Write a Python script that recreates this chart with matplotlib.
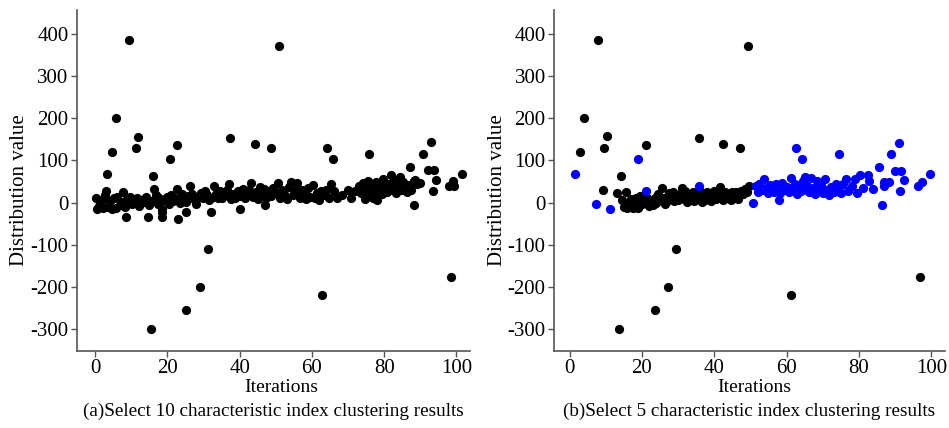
import numpy as np
import matplotlib.pyplot as plt

plt.rcParams['font.family'] = ['Liberation Serif', 'DejaVu Serif']
plt.rcParams['axes.unicode_minus'] = False

# (a) 10 characteristic indexes - all points in one cluster
iter_a = [9.5, 51.0, 5.7, 12.0, 4.8, 11.2, 3.2, 22.8, 20.8, 16.1, 37.3, 44.2, 48.7, 64.3, 65.7,
          75.9, 87.1, 90.6, 92.9, 92.1, 93.9, 94.2, 93.4, 101.4, 99.1, 98.0, 99.3, 88.2, 90.0,
          88.2, 98.5, 62.8, 31.2, 29.0, 25.3, 15.5, 8.5, 14.6, 18.6, 18.6, 22.9, 25.3, 32.0,
          40.0, 47.1,
          0.3, 0.5, 1.2, 1.8, 2.3, 2.8, 3.0, 3.5, 4.2, 4.8, 5.3, 5.8, 6.2, 6.8, 7.3, 7.8, 8.2,
          8.9, 9.6, 10.2, 10.8, 11.5, 12.2, 12.8, 13.5, 14.0, 14.8, 15.5, 16.3, 16.8, 17.3,
          17.8, 18.5, 19.2, 19.8, 20.4, 21.0, 21.6, 22.2, 22.8, 23.4, 24.0, 24.6, 25.2, 25.8,
          26.3, 26.8, 27.4, 28.0, 28.6, 29.2, 29.8, 30.4, 31.0, 31.6, 32.2, 32.8, 33.4, 34.0,
          34.6, 35.2, 35.8, 36.4, 37.0, 37.6, 38.2, 38.8, 39.5, 40.2, 40.8, 41.4, 42.0, 42.6,
          43.2, 43.8, 44.4, 45.0, 45.6, 46.2, 46.8, 47.4, 48.0, 48.6, 49.2, 50.0, 50.6, 51.2,
          51.8, 52.4, 53.0, 53.6, 54.2, 54.8, 55.4, 56.0, 56.6, 57.2, 57.8, 58.4, 59.0, 59.6,
          60.2, 60.8, 61.4, 62.0, 62.6, 63.2, 64.0, 64.6, 65.2, 66.0, 67.0, 68.2, 70.0, 70.8,
          72.0, 73.0, 73.6, 74.0, 74.6, 75.0, 75.4, 75.8, 76.2, 76.8, 77.2, 77.6, 78.0, 78.4,
          78.8, 79.4, 79.8, 80.2, 80.8, 81.4, 82.0, 82.4, 82.8, 83.2, 83.8, 84.3, 84.8, 85.2,
          85.8, 86.2, 86.8, 87.3, 88.6, 89.0]
value_a = [384, 371, 200, 156, 120, 129, 67, 137, 103, 62, 152, 138, 130, 130, 103,
           115, 85, 115, 143, 76, 76, 54, 28, 68, 50, 40, 40, 50, 47,
           -5, -177, -219, -110, -199, -253, -298, -34, -34, -34, -22, -39, -23, -22,
           -15, -6,
           12, -14, -8, 5, -12, 18, 28, -10, 3, -14, 10, -12, 14, -5, 2, 25, -10,
           8, 14, -4, 2, 12, -8, 6, 2, 14, -6, 4, 33, 18, -4,
           10, -14, 6, 14, -4, 18, 4, 10, 33, -2, 20, 8, 2, 15,
           40, 20, 8, -3, 14, 22, 10, 28, 18, 6, 12, 40, 20, 10,
           28, 10, 18, 30, 44, 8, 20, 10, 28, 15, 32, 10, 22, 30,
           46, 14, 24, 8, 36, 20, 32, 12, 28, 16, 34, 22, 46, 12,
           30, 20, 8, 36, 48, 18, 28, 46, 12, 30, 20, 8, 34, 14,
           42, 10, 22, 6, 28, 18, 30, 12, 44, 28, 12, 18, 30, 12,
           28, 40, 22, 46, 8, 30, 52, 18, 40, 12, 30, 48, 6, 24,
           38, 20, 56, 34, 26, 44, 66, 30, 52, 22, 40, 60, 30, 48,
           36, 24, 42, 30, 54, 45]

# (b) 5 characteristic indexes - cluster 1 (black)
iter_b1 = [7.8, 49.3, 4.0, 10.3, 3.0, 9.5, 9.3, 14.2, 21.2, 35.8, 42.5, 47.0, 29.5, 27.3,
           23.5, 13.8, 61.2, 96.8, 13.1,
           14.5, 15.0, 15.5, 16.0, 16.5, 17.0, 17.5, 18.0, 18.5, 19.0, 19.5, 20.0, 20.5, 21.5,
           22.0, 22.5, 23.0, 23.5, 24.0, 24.5, 25.0, 25.5, 26.0, 26.5, 27.0, 27.5, 28.0, 28.5,
           29.0, 29.5, 30.0, 30.5, 31.0, 31.5, 32.0, 32.5, 33.0, 33.5, 34.0, 34.5, 35.0, 35.5,
           36.0, 36.5, 37.0, 37.5, 38.0, 38.5, 39.0, 39.5, 40.0, 40.5, 41.0, 41.5, 42.0, 42.5,
           43.0, 43.5, 44.0, 44.5, 45.0, 45.5, 46.0, 46.5, 47.0, 47.5, 48.0, 48.5, 49.0, 49.5]
value_b1 = [384, 371, 200, 157, 120, 129, 30, 62, 137, 152, 138, 130, -110, -199,
            -253, -298, -219, -177, 22,
            5, -10, 24, -12, 0, 8, -12, -5, 12, -12, 15, -3, 5, 12,
            -8, 3, -5, 10, 0, 20, 6, 35, 12, -3, 4, 22, 10, 25,
            3, 15, 6, 20, 35, 8, 28, 2, 18, 8, 25, 4, 18, 8,
            28, 2, 20, 6, 24, 12, 4, 18, 28, 8, 22, 38, 14, 5,
            26, 10, 20, 5, 25, 14, 24, 8, 18, 28, 20, 32, 25, 40]

# (b) cluster 2 (blue)
iter_b2 = [1.5, 7.2, 11.1, 19.0, 21.1, 35.8, 50.8, 62.6, 64.2, 74.4, 85.6, 86.5, 88.9, 91.2,
           89.9, 91.7, 91.4, 92.4, 99.6, 96.2, 97.5, 87.0, 88.3, 87.0, 57.8,
           51.5, 52.0, 52.5, 53.2, 53.8, 54.3, 54.8, 55.3, 55.8, 56.4, 57.0, 57.5, 58.2, 58.8,
           59.4, 60.0, 60.6, 61.2, 61.8, 62.3, 62.8, 63.4, 64.0, 64.6, 65.0, 65.6, 66.2, 66.8,
           67.3, 67.8, 68.4, 69.0, 69.5, 70.0, 70.6, 71.2, 71.8, 72.4, 73.0, 73.6, 74.2, 75.0,
           75.5, 76.3, 77.0, 78.0, 78.8, 79.4, 80.2, 81.0, 82.5, 82.8, 83.8]
value_b2 = [67, -4, -14, 103, 28, 40, -2, 130, 103, 115, 84, -5, 115, 142,
            75, 75, 28, 53, 68, 40, 49, 48, 48, 40, 6,
            40, 25, 45, 30, 55, 35, 22, 42, 30, 25, 45, 35, 22, 46,
            30, 38, 24, 58, 32, 45, 20, 36, 28, 52, 60, 40, 24, 58,
            35, 20, 50, 30, 42, 22, 55, 30, 18, 38, 25, 44, 30, 22,
            44, 56, 28, 40, 55, 22, 66, 35, 66, 52, 32]

y_ticks = [-300, -200, -100, 0, 100, 200, 300, 400]
x_ticks = [0, 20, 40, 60, 80, 100]
captions = ['(a)Select 10 characteristic index clustering results',
            '(b)Select 5 characteristic index clustering results']

fig = plt.figure(figsize=(9.49, 4.28), dpi=100)
ax1 = fig.add_axes([0.0811, 0.180, 0.414, 0.797])
ax2 = fig.add_axes([0.5838, 0.180, 0.412, 0.797])

ax1.scatter(iter_a, value_a, s=44, color='black', linewidths=0, zorder=3)
ax2.scatter(iter_b1, value_b1, s=44, color='black', linewidths=0, zorder=3)
ax2.scatter(iter_b2, value_b2, s=44, color='#0000ff', linewidths=0, zorder=3)

panels = [(ax1, (-5.0, 103.7), captions[0], 0.520), (ax2, (-4.3, 103.8), captions[1], 0.511)]
for ax, xl, cap, xlab_x in panels:
    ax.set_xlim(*xl)
    ax.set_ylim(-351, 456)
    ax.set_xticks(x_ticks)
    ax.set_yticks(y_ticks)
    ax.spines['top'].set_visible(False)
    ax.spines['right'].set_visible(False)
    for s in ['left', 'bottom']:
        ax.spines[s].set_color('#555555')
        ax.spines[s].set_linewidth(1.2)
    ax.tick_params(direction='out', length=4, width=1.0, color='#555555',
                   labelsize=15, pad=2)
    ax.set_xlabel('Iterations', fontsize=14)
    ax.set_ylabel('Distribution value', fontsize=15)
    ax.xaxis.set_label_coords(xlab_x, -0.108)
    ax.yaxis.set_label_coords(-0.145, 0.472)
    ax.xaxis.label.set_va('center')
    ax.yaxis.label.set_va('center')
    pos = ax.get_position()
    fig.text(pos.x0 + pos.width / 2, 0.040, cap, ha='center', va='center', fontsize=13.8)

fig.savefig('out.png', dpi=100)
